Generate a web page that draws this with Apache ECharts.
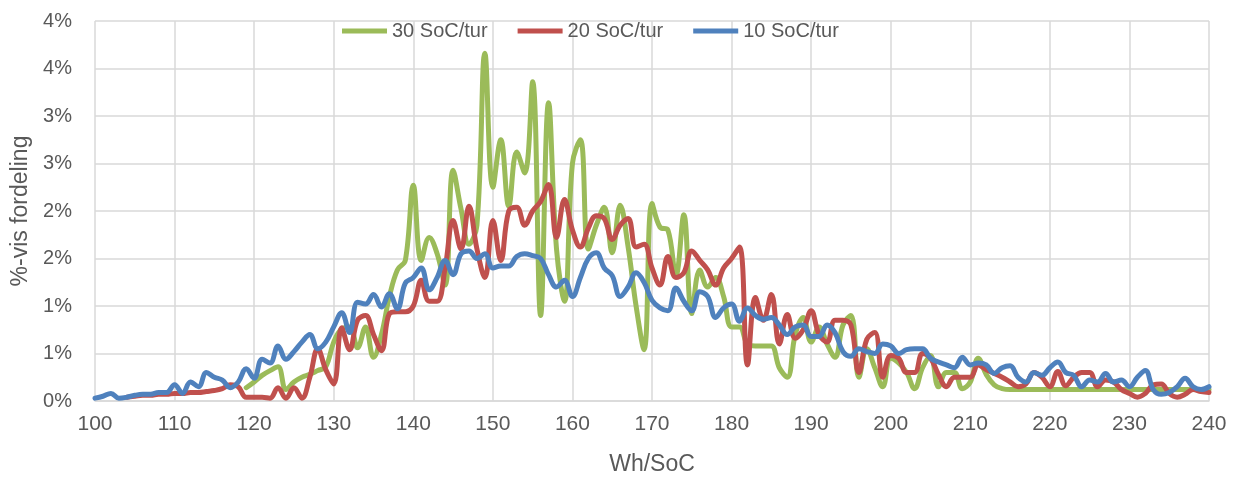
<!DOCTYPE html>
<html>
<head>
<meta charset="utf-8">
<script src="https://cdn.jsdelivr.net/npm/echarts@6/dist/echarts.min.js"></script>
<style>
  html, body { margin: 0; padding: 0; background: #fff; }
  #chart { width: 1234px; height: 485px; }
</style>
</head>
<body>
<div id="chart"></div>
<script>
// Wh/SoC from 100 to 240, one step per unit
const whPerSoc = []
for (let x = 100; x <= 240; x++) whPerSoc.push(x)

const seriesNames = ['30 SoC/tur', '20 SoC/tur', '10 SoC/tur']
const seriesColors = ['#9BBB59', '#C0504D', '#4F81BD']

// y tick labels as shown (Excel rounds 0.5 % steps to whole percent)
const yTickLabels = ['0%', '1%', '1%', '2%', '2%', '3%', '3%', '4%', '4%']
const xTickLabels = ['100', '110', '120', '130', '140', '150', '160', '170', '180', '190', '200', '210', '220', '230', '240']

// values in percent, starting at 100 Wh/SoC
const soc30 = [
  null, null, null, null, null, null, null, null, null, null,
  null, null, null, null, null, null, null, null, null, 0.14,
  0.2, 0.27, 0.32, 0.36, 0.12, 0.2, 0.25, 0.28, 0.32, 0.36,
  0.62, 0.76, 0.78, 0.56, 0.78, 0.46, 0.7, 1.1, 1.38, 1.48,
  2.27, 1.48, 1.72, 1.55, 1.22, 2.43, 2.02, 1.65, 1.85, 3.66,
  2.25, 2.75, 2.05, 2.62, 2.4, 3.36, 0.9, 3.14, 1.6, 1.05,
  2.5, 2.75, 1.6, 1.85, 2.04, 1.56, 2.06, 1.62, 1.0, 0.54,
  2.08, 1.83, 1.8, 1.32, 1.96, 0.92, 1.38, 1.2, 1.3, 1.1,
  0.78, 0.78, 0.6, 0.58, 0.58, 0.58, 0.35, 0.25, 0.7, 0.88,
  0.62, 0.78, 0.6, 0.46, 0.8, 0.9, 0.25, 0.55, 0.35, 0.15,
  0.45, 0.4, 0.3, 0.13, 0.35, 0.48, 0.15, 0.3, 0.3, 0.13,
  0.2, 0.45, 0.28, 0.17, 0.13, 0.12, 0.12, 0.12, 0.12, 0.12,
  0.12, 0.12, 0.12, 0.12, 0.12, 0.12, 0.12, 0.12, 0.12, 0.12,
  0.12, 0.12, 0.12, 0.12, 0.12, 0.12, 0.12, 0.12, 0.12, 0.12,
  0.12
]

const soc20 = [
  null, null, null, null, 0.04, 0.05, 0.06, 0.06, 0.07, 0.07,
  0.08, 0.08, 0.09, 0.09, 0.1, 0.11, 0.13, 0.17, 0.15, 0.04,
  0.04, 0.04, 0.03, 0.14, 0.03, 0.14, 0.03, 0.25, 0.55, 0.33,
  0.18, 0.77, 0.54, 0.85, 0.9, 0.7, 0.53, 0.92, 0.94, 0.94,
  1.0, 1.27, 1.05, 1.05, 1.4, 1.9, 1.6, 2.05, 1.6, 1.3,
  1.9, 1.48, 2.0, 2.04, 1.85, 2.0, 2.1, 2.28, 1.72, 2.12,
  1.8, 1.62, 1.82, 1.95, 1.92, 1.7, 1.85, 1.92, 1.62, 1.65,
  1.4, 1.22, 1.52, 1.3, 1.35, 1.58, 1.48, 1.38, 1.22, 1.4,
  1.5, 1.62, 0.38, 1.09, 0.85, 1.12, 0.6, 0.91, 0.66, 0.75,
  0.95, 0.7, 0.62, 0.85, 0.85, 0.8, 0.3, 0.65, 0.72, 0.25,
  0.48, 0.45, 0.3, 0.3, 0.5, 0.45, 0.28, 0.15, 0.25, 0.25,
  0.25, 0.38, 0.33, 0.29, 0.25, 0.2, 0.15, 0.18, 0.3, 0.25,
  0.15, 0.31, 0.16, 0.25, 0.3, 0.3, 0.15, 0.22, 0.2, 0.12,
  0.08, 0.04, 0.08, 0.17, 0.18, 0.08, 0.04, 0.07, 0.12, 0.1,
  0.09
]

const soc10 = [
  0.03, 0.05, 0.08, 0.03, 0.04, 0.06, 0.07, 0.07, 0.09, 0.09,
  0.17, 0.08, 0.2, 0.15, 0.3, 0.25, 0.22, 0.14, 0.2, 0.34,
  0.24, 0.44, 0.4, 0.58, 0.44, 0.52, 0.62, 0.7, 0.55, 0.62,
  0.78, 0.93, 0.72, 1.04, 1.02, 1.12, 0.99, 1.13, 0.97, 1.24,
  1.3, 1.4, 1.17, 1.3, 1.48, 1.33, 1.55, 1.58, 1.5, 1.55,
  1.4, 1.42, 1.42, 1.52, 1.55, 1.53, 1.5, 1.33, 1.2, 1.27,
  1.1, 1.3, 1.5, 1.56, 1.4, 1.32, 1.1, 1.2, 1.35, 1.25,
  1.06, 0.98, 0.95, 1.19, 1.05, 0.95, 1.15, 1.1, 0.88, 0.98,
  1.02, 0.84, 0.98, 0.9, 0.86, 0.88, 0.8, 0.7, 0.78, 0.8,
  0.68, 0.68, 0.8, 0.72, 0.52, 0.47, 0.55, 0.52, 0.5, 0.6,
  0.58, 0.5, 0.54, 0.55, 0.55, 0.45, 0.41, 0.38, 0.35, 0.46,
  0.38, 0.4, 0.38, 0.29, 0.35, 0.37, 0.25, 0.2, 0.3, 0.27,
  0.35, 0.41, 0.3, 0.27, 0.15, 0.22, 0.2, 0.29, 0.2, 0.22,
  0.15, 0.25, 0.32, 0.12, 0.07, 0.09, 0.15, 0.24, 0.15, 0.12,
  0.15
]

const font = '"Liberation Sans", Arial, sans-serif'
const textColor = '#595959'
const gridColor = '#d9d9d9'

function pairs (values) {
  return whPerSoc.map((x, i) => [x, values[i]])
}

const chart = echarts.init(document.getElementById('chart'))
chart.setOption({
  animation: false,
  textStyle: { fontFamily: font },
  grid: { left: 95, right: 25, top: 21, bottom: 84 },
  legend: {
    data: seriesNames,
    left: 337,
    top: 16,
    icon: 'rect',
    itemWidth: 45,
    itemHeight: 5,
    itemGap: 30,
    textStyle: { fontSize: 20, color: textColor, fontFamily: font }
  },
  xAxis: {
    type: 'value',
    min: 100,
    max: 240,
    interval: 10,
    name: 'Wh/SoC',
    nameLocation: 'middle',
    nameGap: 52,
    nameTextStyle: { fontSize: 23, color: textColor },
    axisLine: { show: true, lineStyle: { color: gridColor, width: 1.5 } },
    axisTick: { show: false },
    axisLabel: {
      margin: 13,
      fontSize: 21,
      color: textColor,
      formatter: v => xTickLabels[Math.round((v - 100) / 10)]
    },
    splitLine: { show: true, lineStyle: { color: gridColor, width: 1.5 } }
  },
  yAxis: {
    type: 'value',
    min: 0,
    max: 4,
    interval: 0.5,
    name: '%-vis fordeling',
    nameLocation: 'middle',
    nameGap: 60,
    nameTextStyle: { fontSize: 23, color: textColor },
    axisLine: { show: false },
    axisTick: { show: false },
    axisLabel: {
      margin: 23,
      fontSize: 20,
      color: textColor,
      formatter: v => yTickLabels[Math.round(v / 0.5)]
    },
    splitLine: { show: true, lineStyle: { color: gridColor, width: 1.5 } }
  },
  series: [soc30, soc20, soc10].map((values, i) => ({
    name: seriesNames[i],
    type: 'line',
    data: pairs(values),
    smooth: 0.4,
    showSymbol: false,
    connectNulls: false,
    color: seriesColors[i],
    lineStyle: { width: 5, color: seriesColors[i], cap: 'round', join: 'round' }
  }))
})
</script>
</body>
</html>
